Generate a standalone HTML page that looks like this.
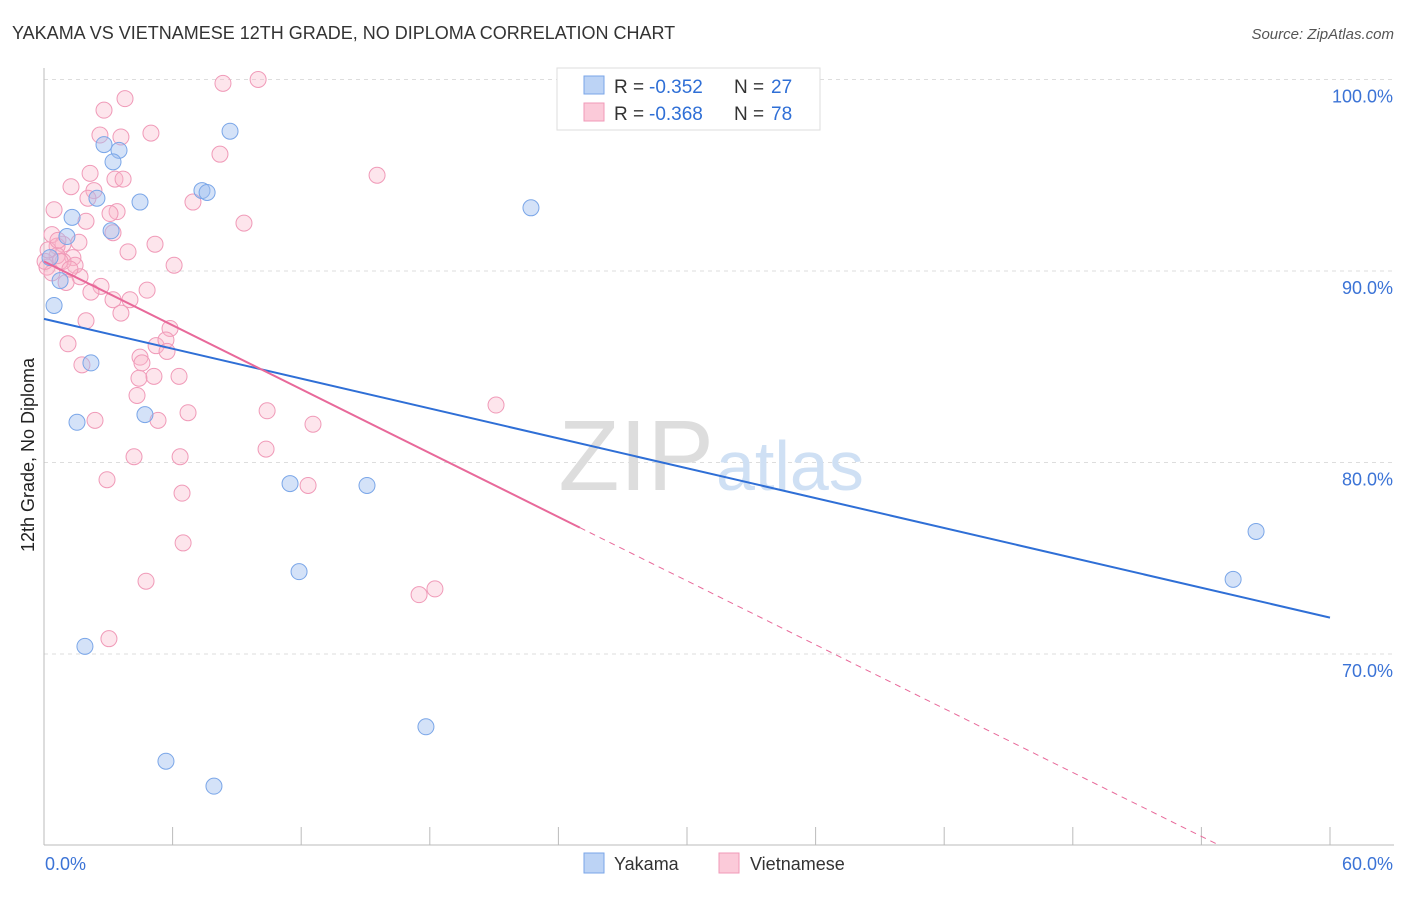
<!DOCTYPE html>
<html><head><meta charset="utf-8"><style>
body{margin:0;background:#fff;font-family:"Liberation Sans",sans-serif;}
svg text{font-family:"Liberation Sans",sans-serif;}
</style></head><body>
<svg id="chart" width="1406" height="892">
<text x="12" y="39" font-size="18" fill="#333">YAKAMA VS VIETNAMESE 12TH GRADE, NO DIPLOMA CORRELATION CHART</text>
<text x="1394" y="39" font-size="15" fill="#555" text-anchor="end" font-style="italic">Source: ZipAtlas.com</text>
<text x="34" y="455" font-size="18" fill="#222" text-anchor="middle" transform="rotate(-90 34 455)">12th Grade, No Diploma</text>
<g id="grid"></g>
<g id="axes"></g>
<text x="714" y="490" font-size="100" fill="#ddd" font-family="Liberation Serif" text-anchor="end">ZIP</text>
<text x="716" y="490" font-size="70" fill="#cfe0f4">atlas</text>
<g id="points"></g>
<g id="lines"></g>
<g>
<rect x="557" y="68" width="263" height="62" fill="#fff" stroke="#ddd"/>
<rect x="584" y="76" width="20" height="18" fill="#bcd3f5" stroke="#7aa6e8"/>
<rect x="584" y="103" width="20" height="18" fill="#fbcad9" stroke="#f09ab8"/>
<text x="614" y="93" font-size="19" fill="#333">R =</text>
<text x="649" y="93" font-size="19" fill="#2f6fd6">-0.352</text>
<text x="734" y="93" font-size="19" fill="#333">N =</text>
<text x="771" y="93" font-size="19" fill="#2f6fd6">27</text>
<text x="614" y="120" font-size="19" fill="#333">R =</text>
<text x="649" y="120" font-size="19" fill="#2f6fd6">-0.368</text>
<text x="734" y="120" font-size="19" fill="#333">N =</text>
<text x="771" y="120" font-size="19" fill="#2f6fd6">78</text>
</g>
<g>
<rect x="584" y="853" width="20" height="20" fill="#bcd3f5" stroke="#7aa6e8"/>
<text x="614" y="870" font-size="18" fill="#333">Yakama</text>
<rect x="719" y="853" width="20" height="20" fill="#fbcad9" stroke="#f09ab8"/>
<text x="750" y="870" font-size="18" fill="#333">Vietnamese</text>
</g>
</svg>
<script>
const yTicks=[70,80,90,100];
const yTickLabels=["70.0%","80.0%","90.0%","100.0%"];
const xEnds=["0.0%","60.0%"];
const blueX=[0.47,0.75,1.31,1.07,2.47,2.8,3.5,3.22,4.48,3.13,2.19,1.54,4.71,8.68,7.37,7.61,22.72,11.48,15.07,11.9,1.91,5.69,7.93,17.82,56.55,55.48,0.28];
const blueY=[88.2,89.5,92.8,91.8,93.8,96.6,96.3,95.7,93.6,92.1,85.2,82.1,82.5,97.3,94.2,94.1,93.3,78.9,78.8,74.3,70.4,64.4,63.1,66.2,76.4,73.9,90.7];
const pinkX=[8.35,9.99,3.78,2.8,2.61,3.59,4.99,8.21,2.15,3.31,3.69,1.26,2.33,15.54,6.95,0.47,2.05,3.41,3.08,1.96,9.33,0.37,3.22,1.63,0.89,0.61,5.18,3.92,1.35,1.45,6.07,0.89,0.14,0.37,1.68,1.03,2.66,2.19,4.81,3.22,4.01,3.59,1.96,5.88,1.12,5.23,5.69,5.74,4.48,4.57,1.77,6.3,5.13,4.43,4.34,21.09,6.72,10.41,2.38,5.32,12.55,10.36,4.2,6.35,2.94,6.44,12.32,6.49,4.76,18.24,17.5,3.03,0.61,0.75,0.05,1.21,0.19,0.65];
const pinkY=[99.8,100.0,99.0,98.4,97.1,97.0,97.2,96.1,95.1,94.8,94.8,94.4,94.2,95.0,93.6,93.2,93.8,93.1,93.0,92.6,92.5,91.9,92.0,91.5,91.4,91.3,91.4,91.0,90.7,90.3,90.3,90.5,90.2,89.9,89.7,89.4,89.2,88.9,89.0,88.5,88.5,87.8,87.4,87.0,86.2,86.1,86.4,85.8,85.5,85.2,85.1,84.5,84.5,84.4,83.5,83.0,82.6,82.7,82.2,82.2,82.0,80.7,80.3,80.3,79.1,78.4,78.8,75.8,73.8,73.4,73.1,70.8,90.8,90.5,90.5,90.1,91.1,91.6];
const blueTrend=[87.5,71.9];
const pinkTrend=[90.5,76.6];
const pinkSolidEnd=25;

const X0=44,X1=1330,XMAX=60;
const sx=v=>X0+v/XMAX*(X1-X0);
const sy=v=>271-(v-90)*19.15;
const NS="http://www.w3.org/2000/svg";
function mk(tag,parent,attrs){const e=document.createElementNS(NS,tag);for(const k in attrs)e.setAttribute(k,attrs[k]);document.getElementById(parent).appendChild(e);return e;}

yTicks.forEach((t,i)=>{
  const g=mk('line','grid',{x1:X0,x2:1394,y1:sy(t),y2:sy(t),stroke:'#ddd','stroke-dasharray':'4,4'});
  
  
  const l=mk('text','axes',{x:1393,y:sy(t)+23,'font-size':18,fill:'#3b73d6','text-anchor':'end'});
  l.textContent=yTickLabels[i];
  
  
});
const ax=mk('line','axes',{x1:X0,x2:X0,y1:68,y2:845,stroke:'#bbb'});


const bx=mk('line','axes',{x1:X0,x2:1394,y1:845,y2:845,stroke:'#bbb'});


for(let i=0;i<=10;i++){
  const t=mk('line','axes',{x1:sx(i*6),x2:sx(i*6),y1:827,y2:845,stroke:'#bbb'});
  
  
}
[[0,'start',45],[60,'end',1393]].forEach((d,i)=>{
  const l=mk('text','axes',{x:d[2],y:870,'font-size':18,fill:'#3b73d6','text-anchor':d[1]});
  l.textContent=xEnds[i];
  
  
});

pinkX.forEach((x,i)=>{
  const c=mk('circle','points',{cx:sx(x),cy:sy(pinkY[i]),r:8,fill:'rgba(248,180,200,0.35)',stroke:'#f09ab8','stroke-width':1});
  
  
});
blueX.forEach((x,i)=>{
  const c=mk('circle','points',{cx:sx(x),cy:sy(blueY[i]),r:8,fill:'rgba(160,190,240,0.45)',stroke:'#7aa6e8','stroke-width':1});
  
  
});

const bl=mk('line','lines',{x1:sx(0),y1:sy(blueTrend[0]),x2:sx(60),y2:sy(blueTrend[1]),stroke:'#2f6fd6','stroke-width':2});


const slope=(pinkTrend[1]-pinkTrend[0])/pinkSolidEnd;
const pl=mk('line','lines',{x1:sx(0),y1:sy(pinkTrend[0]),x2:sx(pinkSolidEnd),y2:sy(pinkTrend[1]),stroke:'#e8699a','stroke-width':2});


const xEnd=(60-pinkTrend[0])/slope;
const pd=mk('line','lines',{x1:sx(pinkSolidEnd),y1:sy(pinkTrend[1]),x2:sx(xEnd),y2:sy(60),stroke:'#e8699a','stroke-width':1,'stroke-dasharray':'6,5'});


</script>
</body></html>
